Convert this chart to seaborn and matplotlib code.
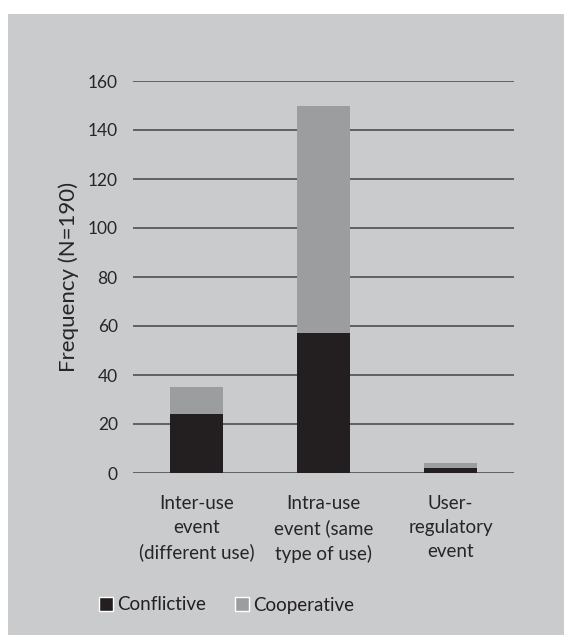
import matplotlib
matplotlib.use('Agg')
import matplotlib.pyplot as plt
import matplotlib.patches as mpatches
import numpy as np
import pandas as pd
import seaborn as sns

CATEGORIES = [
    'Inter-use\nevent\n(different use)',
    'Intra-use\nevent (same\ntype of use)',
    'User-\nregulatory\nevent',
]
CONFLICTIVE = [24, 57, 2]
COOPERATIVE = [11, 93, 2]
Y_TICKS = [0, 20, 40, 60, 80, 100, 120, 140, 160]

BG = '#cacbcd'
DARK = '#231f20'
LIGHT = '#9c9d9f'
GRID = '#58585a'

sns.set_theme(style='white')
plt.rcParams['font.family'] = ['Lato', 'DejaVu Sans']
plt.rcParams['text.color'] = '#231f20'

df = pd.DataFrame({
    'category': CATEGORIES,
    'conflictive': CONFLICTIVE,
    'cooperative': COOPERATIVE,
})
df['total'] = df['conflictive'] + df['cooperative']

fig = plt.figure(figsize=(5.64, 6.35), dpi=100, facecolor='white')
# grey panel behind the chart (white strip on top and left)
fig.patches.append(mpatches.Rectangle(
    (8 / 564, 0), 1, 1 - 14 / 635, transform=fig.transFigure,
    facecolor=BG, edgecolor='none', zorder=-10))

ax = fig.add_axes([133 / 564, 1 - 473 / 635, 381 / 564, 392 / 635])
ax.set_facecolor('none')

# stacked bars: total in light grey, conflictive drawn over it
sns.barplot(data=df, x='category', y='total', color=LIGHT, width=0.41,
            saturation=1, edgecolor='none', ax=ax, zorder=3)
sns.barplot(data=df, x='category', y='conflictive', color=DARK, width=0.41,
            saturation=1, edgecolor='none', ax=ax, zorder=4)

ax.set_ylim(0, 160)
ax.set_xlim(-0.5, 2.5)
ax.set_yticks(Y_TICKS)
ax.yaxis.grid(True, color=GRID, lw=1.3)
ax.set_axisbelow(True)
for s in ax.spines.values():
    s.set_visible(False)
ax.tick_params(axis='y', length=0, pad=11, labelsize=12.5)
ax.tick_params(axis='x', length=0, pad=16)
ax.set_xticks(range(len(CATEGORIES)))
ax.set_xticklabels(CATEGORIES, fontsize=13.5, linespacing=1.5)
ax.set_xlabel('')
ax.set_ylabel('Frequency (N=190)', fontsize=16, labelpad=6)

handles = [
    mpatches.Patch(facecolor=DARK, label='Conflictive'),
    mpatches.Patch(facecolor=LIGHT, label='Cooperative'),
]
fig.legend(handles=handles, loc='center left',
           bbox_to_anchor=(82 / 564, 1 - 605 / 635), ncol=2, frameon=False,
           fontsize=13.5, handlelength=0.75, handleheight=0.75,
           handletextpad=0.25, columnspacing=1.5)

fig.savefig('out.png', dpi=100, facecolor=fig.get_facecolor())
